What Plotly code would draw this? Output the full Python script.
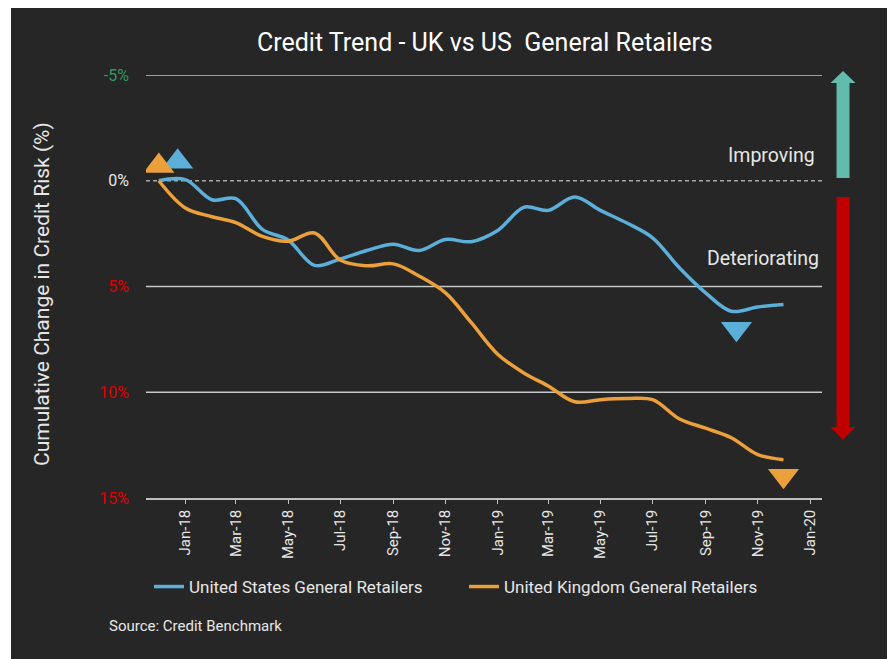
import plotly.graph_objects as go

# ---- data ----
months = ["2017-12-01", "2018-01-01", "2018-02-01", "2018-03-01", "2018-04-01", "2018-05-01",
          "2018-06-01", "2018-07-01", "2018-08-01", "2018-09-01", "2018-10-01", "2018-11-01",
          "2018-12-01", "2019-01-01", "2019-02-01", "2019-03-01", "2019-04-01", "2019-05-01",
          "2019-06-01", "2019-07-01", "2019-08-01", "2019-09-01", "2019-10-01", "2019-11-01",
          "2019-12-01"]
us_values = [0.0, -0.05, 0.9, 0.85, 2.3, 2.8, 4.0, 3.7, 3.3, 3.0, 3.3, 2.78, 2.88,
             2.35, 1.25, 1.4, 0.77, 1.4, 2.0, 2.7, 4.1, 5.3, 6.17, 5.97, 5.85]
uk_values = [0.0, 1.29, 1.7, 1.98, 2.63, 2.86, 2.47, 3.75, 4.02, 3.93, 4.5, 5.3, 6.7,
             8.2, 9.1, 9.7, 10.45, 10.35, 10.3, 10.35, 11.25, 11.7, 12.15, 12.95, 13.19]

us_name = "United States General Retailers"
uk_name = "United Kingdom General Retailers"

# start / end markers
us_marker_x = ["2017-12-23", "2019-10-07"]
us_marker_y = [-0.9, 7.0]
uk_marker_x = ["2017-12-01", "2019-12-01"]
uk_marker_y = [-0.7, 13.95]
marker_symbols = ["triangle-up", "triangle-down"]

y_ticks = [-5, 0, 5, 10, 15]
y_tick_labels = ["-5%", "0%", "5%", "10%", "15%"]
y_tick_colors = ["#2e9a5a", "#e6e6e6", "#e00000", "#e00000", "#e00000"]

title_text = "Credit Trend - UK vs US  General Retailers"
y_title = "Cumulative Change in Credit Risk (%)"
source_text = "Source: Credit Benchmark"

BG = "#262626"
BLUE = "#5bafd9"
ORANGE = "#eba03c"
GRID = "#c8c8c8"
TXT = "#e6e6e6"
FONT = "Roboto"

fig = go.Figure()
fig.add_trace(go.Scatter(x=months, y=us_values, name=us_name, mode="lines",
                         line=dict(color=BLUE, width=3.5, shape="spline", smoothing=1)))
fig.add_trace(go.Scatter(x=months, y=uk_values, name=uk_name, mode="lines",
                         line=dict(color=ORANGE, width=3.5, shape="spline", smoothing=1)))
fig.add_trace(go.Scatter(x=us_marker_x, y=us_marker_y, mode="markers", showlegend=False,
                         marker=dict(symbol=marker_symbols, size=27, color=BLUE, line=dict(width=0))))
fig.add_trace(go.Scatter(x=uk_marker_x, y=uk_marker_y, mode="markers", showlegend=False,
                         marker=dict(symbol=marker_symbols, size=27, color=ORANGE, line=dict(width=0))))

shapes = []
# dark panel background
shapes.append(dict(type="rect", xref="paper", yref="paper", x0=-0.1997, x1=1.1006,
                   y0=-0.40, y1=1.1608, fillcolor=BG, line=dict(width=0), layer="below"))
# gridlines from tick values
for v in y_ticks[:-1]:
    shapes.append(dict(type="line", xref="paper", yref="y", x0=0, x1=1, y0=v, y1=v,
                       line=dict(color="#a8a8a8" if v == 0 else GRID, width=1.3,
                                 dash="4px,3px" if v == 0 else "solid"),
                       layer="below"))
# arrows (improving / deteriorating)
cx, hs, hh = 1.0311, 0.0096, 0.0185
shapes.append(dict(type="path", xref="paper", yref="paper",
                   path=(f"M {cx-hs},0.7565 L {cx-hs},0.9811 L {cx-hh},0.9811 L {cx},1.0095 "
                         f"L {cx+hh},0.9811 L {cx+hs},0.9811 L {cx+hs},0.7565 Z"),
                   fillcolor="#62bcae", line=dict(width=0)))
shapes.append(dict(type="path", xref="paper", yref="paper",
                   path=(f"M {cx-hs},0.7116 L {cx-hs},0.1678 L {cx-hh},0.1678 L {cx},0.1371 "
                         f"L {cx+hh},0.1678 L {cx+hs},0.1678 L {cx+hs},0.7116 Z"),
                   fillcolor="#c00000", line=dict(width=0)))

annotations = [
    dict(text=title_text, xref="paper", yref="paper", x=(485 - 146) / 676, y=(498 - 42) / 423,
         xanchor="center", yanchor="middle", showarrow=False,
         font=dict(family=FONT, size=25, color="#ffffff")),
    dict(text=y_title, xref="paper", yref="paper", x=(42 - 146) / 676, y=(498 - 294) / 423,
         textangle=-90, xanchor="center", yanchor="middle", showarrow=False,
         font=dict(family=FONT, size=21, color=TXT)),
    dict(text="Improving", xref="paper", yref="paper", x=(817 - 146) / 676, y=(498 - 155) / 423,
         xanchor="right", yanchor="middle", showarrow=False,
         font=dict(family=FONT, size=19.5, color=TXT)),
    dict(text="Deteriorating", xref="paper", yref="paper", x=(821 - 146) / 676, y=(498 - 259) / 423,
         xanchor="right", yanchor="middle", showarrow=False,
         font=dict(family=FONT, size=19.5, color=TXT)),
    dict(text=source_text, xref="paper", yref="paper", x=(107 - 146) / 676, y=(498 - 626) / 423,
         xanchor="left", yanchor="middle", showarrow=False,
         font=dict(family=FONT, size=15, color=TXT)),
]

fig.update_layout(
    width=887, height=651,
    margin=dict(l=138, r=73, t=67, b=161),
    paper_bgcolor="#ffffff",
    plot_bgcolor="rgba(0,0,0,0)",
    font=dict(family=FONT, color=TXT),
    shapes=shapes,
    annotations=annotations,
    legend=dict(orientation="h", x=0.0044, y=(498 - 587) / 423, xanchor="left", yanchor="middle",
                font=dict(family=FONT, size=17, color=TXT), bgcolor="rgba(0,0,0,0)",
                entrywidth=270, entrywidthmode="pixels"),
    xaxis=dict(type="date", range=["2017-11-16", "2020-01-15"], dtick="M2", tick0="2018-01-01",
               tickformat="%b-%y", tickangle=-90, ticks="outside", ticklen=4, tickcolor="#bfbfbf",
               showline=True, linecolor="#bfbfbf", linewidth=1.5, showgrid=False, zeroline=False,
               tickfont=dict(family=FONT, size=15, color=TXT)),
    yaxis=dict(range=[15, -5], tickvals=y_ticks,
               ticktext=[f"<span style='color:{c}'>{t}</span>" for t, c in zip(y_tick_labels, y_tick_colors)],
               showgrid=False, zeroline=False, showline=False, ticks="",
               tickfont=dict(family=FONT, size=16), ticklabelstandoff=16),
)

fig.write_html("out.html")
